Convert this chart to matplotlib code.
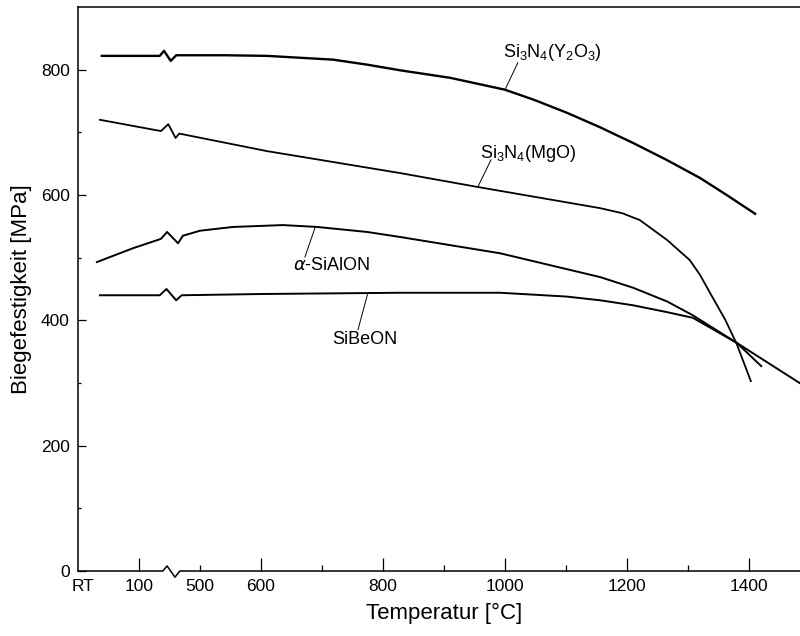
import matplotlib
matplotlib.use("Agg")
import matplotlib.pyplot as plt

plt.rcParams["font.family"] = ["Liberation Sans", "DejaVu Sans"]
plt.rcParams["mathtext.default"] = "regular"

# x positions are in axis units: 500..1500 equal degC, the RT..100 part is squeezed
# in front of the axis break (zigzag around 440..470)
y2o3_x = [339, 434, 441, 452, 461, 540, 610, 718, 774, 828, 910, 1000, 1050, 1102, 1156, 1210, 1265, 1320, 1365, 1410]
y2o3_y = [822, 822, 830, 814, 823, 823, 822, 816, 808, 799, 787, 768, 751, 731, 708, 683, 656, 627, 599, 570]

mgo_x = [336, 436, 448, 460, 466, 610, 828, 954, 1156, 1192, 1221, 1266, 1303, 1320, 1336, 1361, 1380, 1403]
mgo_y = [720, 702, 713, 691, 698, 670, 635, 613, 579, 571, 560, 528, 496, 472, 444, 401, 362, 303]

sialon_x = [331, 390, 436, 446, 464, 472, 500, 554, 636, 692, 774, 828, 992, 1156, 1210, 1266, 1308, 1380, 1483, 1500]
sialon_y = [493, 515, 530, 541, 523, 535, 543, 549, 552, 549, 541, 533, 507, 469, 452, 430, 408, 364, 300, 290]

sibeon_x = [336, 434, 445, 461, 470, 600, 828, 992, 1100, 1156, 1210, 1266, 1308, 1380, 1420]
sibeon_y = [440, 440, 450, 432, 440, 442, 444, 444, 438, 432, 424, 413, 404, 364, 327]

# labels: text, text position, leader start (on curve), leader end
labels = [
    ("Si$_3$N$_4$(Y$_2$O$_3$)", (1077, 828), (1000, 768), (1021, 811)),
    ("Si$_3$N$_4$(MgO)", (1038, 667), (956, 614), (977, 656)),
    ("$\\it{\u03b1}$-SiAlON", (716, 488), (689, 549), (672, 501)),
    ("SiBeON", (770, 369), (775, 443), (759, 385)),
]

xtick_pos = [308, 400, 500, 600, 800, 1000, 1200, 1400]
xtick_labels = ["RT", "100", "500", "600", "800", "1000", "1200", "1400"]
xminor_pos = [700, 900, 1100, 1300, 1500]

# bottom spine with break symbol (x in axis units, y in axes fraction)
spine_x = [300, 439, 446, 459, 467, 1500]
spine_y = [0, 0, 0.009, -0.011, 0, 0]

fig = plt.figure(figsize=(8, 6.36), dpi=100)
ax = fig.add_axes([0.0975, 0.1022, 0.915, 0.8868])

ax.plot(y2o3_x, y2o3_y, color="black", linewidth=1.7)
ax.plot(mgo_x, mgo_y, color="black", linewidth=1.3)
ax.plot(sialon_x, sialon_y, color="black", linewidth=1.4)
ax.plot(sibeon_x, sibeon_y, color="black", linewidth=1.4)

for text, tpos, p0, p1 in labels:
    ax.plot([p0[0], p1[0]], [p0[1], p1[1]], color="black", linewidth=0.7)
    ax.text(tpos[0], tpos[1], text, ha="center", va="center", fontsize=13)

ax.set_xlim(300, 1500)
ax.set_ylim(0, 900)

ax.spines["bottom"].set_visible(False)
ax.spines["right"].set_visible(False)
for side in ["left", "top"]:
    ax.spines[side].set_linewidth(1.1)
ax.plot(spine_x, spine_y, color="black", linewidth=1.1,
        transform=ax.get_xaxis_transform(), clip_on=False)

ax.set_xticks(xtick_pos)
ax.set_xticklabels(xtick_labels)
ax.set_xticks(xminor_pos, minor=True)
ax.set_yticks([0, 200, 400, 600, 800])
ax.set_yticks([100, 300, 500, 700], minor=True)

ax.tick_params(axis="both", which="both", direction="in", labelsize=12.5, width=0.9)
ax.tick_params(axis="x", which="major", length=9.5, pad=6)
ax.tick_params(axis="x", which="minor", length=4.3)
ax.tick_params(axis="y", which="major", length=6, pad=6)
ax.tick_params(axis="y", which="minor", length=2.5)

# RT has no tick mark, 500 only a short one
ticks = ax.xaxis.get_major_ticks()
ticks[0].tick1line.set_markersize(0)
ticks[2].tick1line.set_markersize(4.3)

ax.set_xlabel("Temperatur [°C]", fontsize=16, labelpad=6)
ax.set_ylabel("Biegefestigkeit [MPa]", fontsize=16, labelpad=6)

fig.savefig("out.png", dpi=100)
